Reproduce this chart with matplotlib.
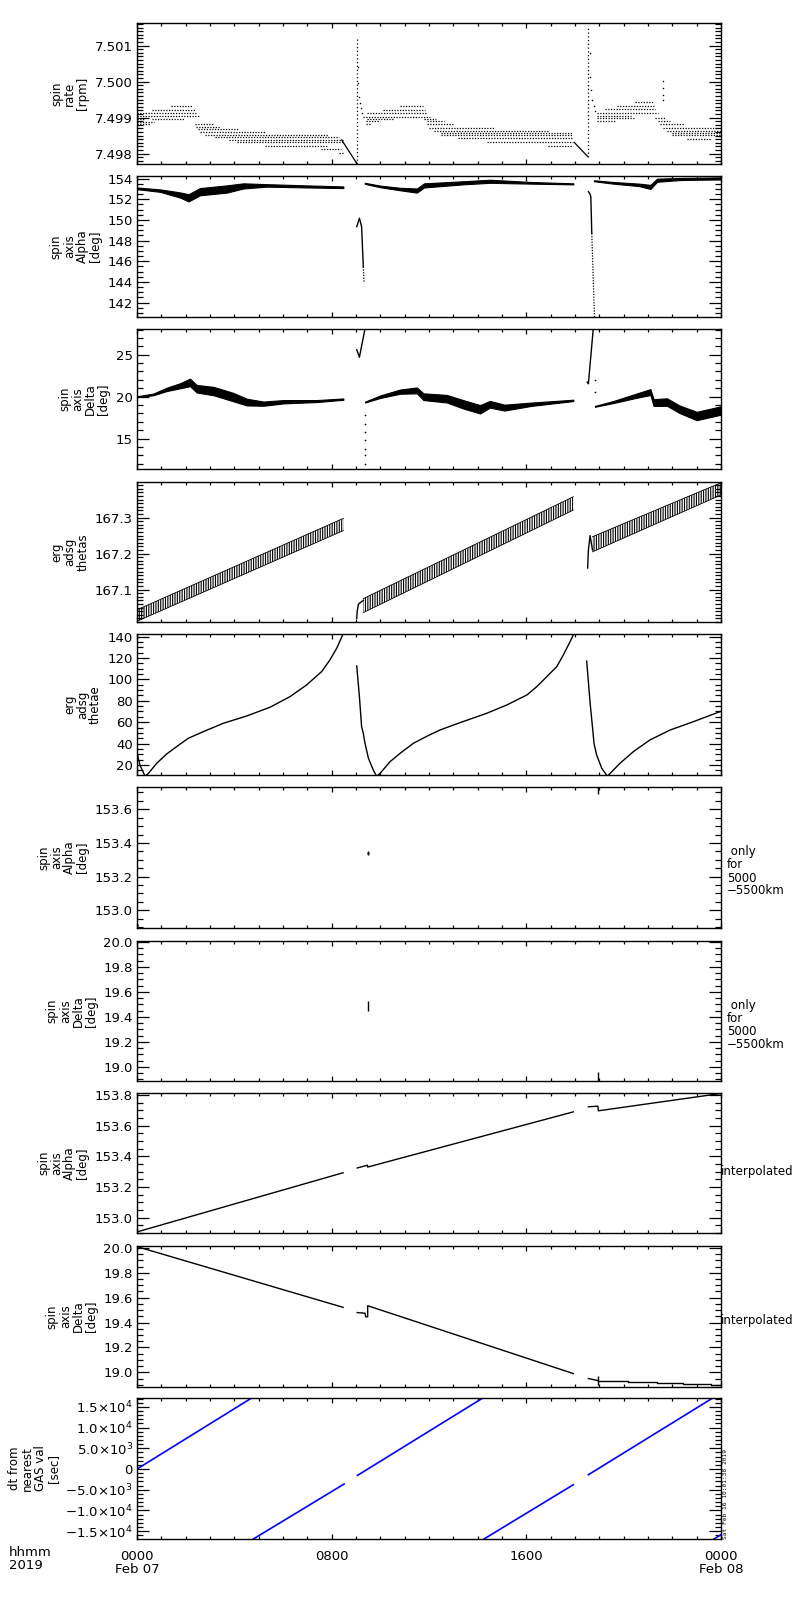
import numpy as np
import matplotlib
matplotlib.use('Agg')
import matplotlib.pyplot as plt
from matplotlib.ticker import MultipleLocator, FormatStrFormatter

nan = np.nan

# ---- spin rate: quantised levels drawn as dotted runs (level, start h, end h)
spin_lvl = [7.49931, 7.49921, 7.49912, 7.49904, 7.49896, 7.49896, 7.49888, 7.49881,
            7.49881, 7.49874, 7.49867, 7.49860, 7.49853, 7.49845, 7.49838, 7.49831,
            7.49822, 7.49812, 7.49801,
            7.49931, 7.49921, 7.49912, 7.49903, 7.49896, 7.49896, 7.49890, 7.49890,
            7.49881, 7.49881, 7.49871, 7.49864, 7.49858, 7.49851, 7.49842, 7.49833,
            7.49822,
            7.49942, 7.49933, 7.49924, 7.49914, 7.49905, 7.49899, 7.49890, 7.49899,
            7.49890, 7.49881, 7.49871, 7.49864, 7.49858, 7.49851, 7.49840]
spin_t0 = [1.40, 0.60, 0.00, 0.00, 0.60, 0.00, 0.00, 0.00, 2.38, 2.44, 2.50, 2.60, 2.80,
           3.20, 3.80, 4.10, 5.25, 7.55, 8.30,
           10.81, 10.12, 9.44, 9.30, 9.44, 11.80, 9.40, 11.90, 9.40, 11.90, 12.00, 12.20,
           12.50, 12.50, 13.20, 14.40, 16.90,
           20.47, 19.71, 19.25, 18.90, 18.90, 18.90, 18.90, 21.30, 21.40, 21.50, 21.60,
           21.80, 22.00, 22.00, 22.60]
spin_t1 = [2.32, 2.38, 2.44, 2.59, 1.95, 0.34, 0.68, 0.55, 3.14, 3.40, 4.20, 5.30, 7.85,
           8.30, 8.45, 8.45, 7.85, 8.40, 8.45,
           11.77, 11.84, 11.90, 12.04, 10.50, 12.30, 10.00, 12.60, 9.60, 13.00, 14.70,
           16.90, 17.90, 17.90, 17.90, 17.90, 17.90,
           21.22, 21.30, 21.30, 21.40, 20.30, 20.45, 19.65, 21.70, 21.90, 22.50, 23.80,
           24.00, 24.00, 24.00, 23.60]
spin_ramp_t = [8.41, 9.03, nan, 17.97, 18.52]
spin_ramp_v = [7.49838, 7.49773, nan, 7.49831, 7.49792]
spike_t = [9.03, 18.55]
spike_lo = [7.49772, 7.49790]
spike_hi = [7.50125, 7.50153]
spin_dot_t = [9.08, 9.10, 9.12, 9.15, 9.19, 9.23,
              18.60, 18.63, 18.66, 18.70, 18.77, 18.84,
              21.63, 21.63, 21.63, 21.63]
spin_dot_v = [7.50042, 7.49996, 7.49958, 7.49940, 7.49926, 7.49912,
              7.50079, 7.50014, 7.49977, 7.49949, 7.49931, 7.49917,
              7.50002, 7.49982, 7.49963, 7.49949]

# ---- spin axis alpha (centre and scatter half-width)
alpha_t1 = [0.0, 0.96, 1.77, 2.12, 2.59, 3.69, 4.37, 5.33, 7.0, 8.48]
alpha_v1 = [153.07, 152.84, 152.42, 152.15, 152.74, 153.0, 153.3, 153.35, 153.25, 153.17]
alpha_s1 = [0.08, 0.12, 0.25, 0.35, 0.35, 0.35, 0.25, 0.12, 0.10, 0.08]
alpha_t2 = [9.36, 10.0, 10.8, 11.5, 11.8, 13.4, 14.5, 16.2, 17.93]
alpha_v2 = [153.55, 153.25, 153.0, 152.85, 153.35, 153.6, 153.75, 153.6, 153.5]
alpha_s2 = [0.05, 0.08, 0.12, 0.20, 0.20, 0.15, 0.15, 0.08, 0.05]
alpha_t3 = [18.78, 19.57, 20.64, 21.1, 21.37, 22.32, 24.0]
alpha_v3 = [153.8, 153.6, 153.4, 153.2, 153.85, 153.97, 154.03]
alpha_s3 = [0.05, 0.08, 0.12, 0.20, 0.15, 0.10, 0.10]
alpha_gap_t = [9.03, 9.14, 9.23, 9.30, nan, 18.55, 18.62, 18.65, 18.69]
alpha_gap_v = [149.35, 150.17, 149.35, 145.48, nan, 152.74, 152.5, 152.26, 148.7]
alpha_tail_t = [9.30, 9.33, nan, 18.69, 18.80]
alpha_tail_v = [145.48, 143.87, nan, 148.7, 140.6]

# ---- spin axis delta
delta_t1 = [0.0, 0.67, 1.22, 1.77, 2.18, 2.45, 3.15, 3.96, 4.51, 5.2, 6.02, 7.39, 8.48]
delta_v1 = [20.0, 20.27, 20.87, 21.3, 21.7, 20.95, 20.67, 19.95, 19.36, 19.17, 19.4, 19.48, 19.71]
delta_s1 = [0.05, 0.10, 0.20, 0.30, 0.45, 0.45, 0.50, 0.50, 0.40, 0.25, 0.20, 0.12, 0.08]
delta_t2 = [9.37, 10.0, 10.81, 11.5, 11.77, 12.73, 13.4, 14.1, 14.5, 15.1, 16.2, 17.93]
delta_v2 = [19.36, 20.0, 20.6, 20.75, 20.0, 19.76, 19.1, 18.5, 19.1, 18.7, 19.1, 19.56]
delta_s2 = [0.05, 0.15, 0.25, 0.35, 0.40, 0.45, 0.50, 0.50, 0.40, 0.35, 0.20, 0.08]
delta_t3 = [18.82, 19.57, 20.5, 21.1, 21.23, 21.78, 22.3, 23.0, 23.7, 24.0]
delta_v3 = [18.85, 19.36, 20.1, 20.55, 19.3, 19.36, 18.5, 17.7, 18.16, 18.36]
delta_s3 = [0.05, 0.12, 0.25, 0.35, 0.40, 0.45, 0.45, 0.50, 0.50, 0.50]
delta_gap_t = [9.03, 9.14, 9.37, nan, 18.50, 18.55, 18.75]
delta_gap_v = [25.6, 24.7, 28.1, nan, 21.74, 21.54, 28.1]
delta_dot_t = [9.37, 9.37, 9.37, 9.37, 9.37, 9.37, 9.37, 18.82, 18.82]
delta_dot_v = [17.77, 16.79, 15.79, 14.80, 13.81, 13.01, 12.02, 22.0, 20.55]

# ---- erg adsg thetas (band lower / upper edge)
thetas_t1 = [0.0, 8.48]
thetas_lo1 = [167.012, 167.264]
thetas_hi1 = [167.044, 167.298]
thetas_t2 = [9.3, 17.93]
thetas_lo2 = [167.036, 167.321]
thetas_hi2 = [167.075, 167.358]
thetas_t3 = [18.72, 24.0]
thetas_lo3 = [167.205, 167.363]
thetas_hi3 = [167.247, 167.397]
thetas_gap_t = [9.03, 9.05, 9.10, 9.30, nan, 18.52, 18.55, 18.62, 18.72]
thetas_gap_v = [167.02, 167.04, 167.06, 167.07, nan, 167.16, 167.21, 167.25, 167.21]

# ---- erg adsg thetae
thetae_t = [0.0, 0.12, 0.33, 0.47, 0.81, 1.22, 1.63, 2.11, 2.73, 3.55, 4.51, 5.47, 6.29,
            6.97, 7.59, 7.93, 8.21, 8.48, nan,
            9.03, 9.14, 9.23, 9.30, 9.37, 9.51, 9.71, 9.85, 9.99, 10.40, 10.81, 11.36,
            11.97, 12.45, 13.28, 14.37, 15.2, 16.02, 16.43, 16.84, 17.25, 17.52, 17.8,
            17.96, nan,
            18.48, 18.62, 18.73, 18.78, 18.89, 19.1, 19.33, 19.51, 19.85, 20.4, 21.08,
            21.91, 22.87, 24.0]
thetae_v = [31.5, 20, 9.5, 12.2, 21.6, 30.3, 37.2, 45, 51.2, 59, 65.8, 74, 83.9,
            94.8, 107.3, 118.2, 129.2, 143, nan,
            112.6, 84, 55.8, 49.6, 40.3, 26.3, 15.3, 9.5, 12.2, 23.1, 30.9, 40.3,
            47.5, 52.7, 59.6, 68.3, 76.1, 85.4, 93.2, 102.5, 111.9, 122.8, 135.3,
            143, nan,
            117.1, 78.2, 52.7, 40.3, 29.3, 16.9, 9.5, 13.7, 21.6, 32.5, 43.4,
            52.7, 60.5, 70.2]

# ---- alpha / delta only for 5000-5500 km
alpha_only_t = [0.0, 9.48]
alpha_only_v = [152.91, 153.34]
delta_only_t = [0.0]
delta_only_v = [20.0]
only_bar_t = [9.48, 18.96]
alpha_bar_lo = [153.33, 153.69]
alpha_bar_hi = [153.35, 153.74]
delta_bar_lo = [19.45, 18.89]
delta_bar_hi = [19.53, 18.96]

# ---- interpolated alpha / delta
alpha_int_t = [0.0, 8.47, nan, 9.05, 9.47, 9.48, 17.93, nan, 18.55, 18.94, 18.96, 24.0]
alpha_int_v = [152.907, 153.293, nan, 153.324, 153.342, 153.33, 153.69, nan,
               153.723, 153.727, 153.697, 153.81]
delta_int_t = [0.0, 8.47, nan, 9.05, 9.37, 9.40, 9.48, 9.48, 10.8, 17.93, nan, 18.55, 18.96]
delta_int_v = [20.01, 19.522, nan, 19.48, 19.475, 19.446, 19.446, 19.535, 19.45, 18.99, nan,
               18.95, 18.933]
delta_step_t = [18.96, 20.19, 21.35, 22.45, 23.6, 24.0]
delta_step_v = [18.933, 18.925, 18.916, 18.908, 18.900, 18.900]

# ---- dt from nearest GAS value [sec]
dt_t = [0.0, 4.71, nan, 4.78, 8.51, nan, 9.06, 14.21, nan, 14.26, 17.93, nan,
        18.55, 23.66, nan, 23.71, 24.0]
dt_v = [0, 17150, nan, -16900, -3623, nan, -1546, 17150, nan, -16900, -3792, nan,
        -1377, 17150, nan, -16900, -15870]
dt_ticks = [15000, 10000, 5000, 0, -5000, -10000, -15000]
dt_ticklabels = [r'1.5$\times$10$^{4}$', r'1.0$\times$10$^{4}$', r'5.0$\times$10$^{3}$', '0',
                 r'$-$5.0$\times$10$^{3}$', r'$-$1.0$\times$10$^{4}$', r'$-$1.5$\times$10$^{4}$']

ylabels = ["spin\nrate\n[rpm]", "spin\naxis\nAlpha\n[deg]", "spin\naxis\nDelta\n[deg]",
           "erg\nadsg\nthetas", "erg\nadsg\nthetae", "spin\naxis\nAlpha\n[deg]",
           "spin\naxis\nDelta\n[deg]", "spin\naxis\nAlpha\n[deg]", "spin\naxis\nDelta\n[deg]",
           "dt from\nnearest\nGAS val\n[sec]"]
ylims = [(7.49771, 7.50163), (140.6, 154.26), (11.39, 28.06), (167.010, 167.399),
         (10.65, 142.4), (152.895, 153.732), (18.886, 20.008), (152.90, 153.813),
         (18.882, 20.015), (-16900, 17150)]
ymajor = [0.001, 2, 5, 0.1, 20, 0.2, 0.2, 0.2, 0.2, 5000]
yminor = [0.0001, 0.5, 1, 0.01, 5, 0.05, 0.05, 0.05, 0.05, 1000]
yfmt = ['%.3f', '%d', '%d', '%.1f', '%d', '%.1f', '%.1f', '%.1f', '%.1f', None]

# panel pixel extents (top, bottom) in an 800x1600 canvas
tops = [23, 176, 329, 482, 634, 787, 941, 1093, 1246, 1398]
bots = [164, 317, 469, 622, 775, 928, 1081, 1233, 1387, 1539]

plt.rcParams['font.family'] = 'DejaVu Sans'
plt.rcParams['hatch.linewidth'] = 0.8

fig = plt.figure(figsize=(8, 16), dpi=100)
axes = []
for i in range(10):
    ax = fig.add_axes([137 / 800, 1 - bots[i] / 1600, 584 / 800, (bots[i] - tops[i]) / 1600])
    ax.set_xlim(0, 24)
    ax.set_ylim(*ylims[i])
    ax.xaxis.set_major_locator(MultipleLocator(8))
    ax.xaxis.set_minor_locator(MultipleLocator(1))
    if i < 9:
        ax.yaxis.set_major_locator(MultipleLocator(ymajor[i]))
        ax.yaxis.set_major_formatter(FormatStrFormatter(yfmt[i]))
    ax.yaxis.set_minor_locator(MultipleLocator(yminor[i]))
    ax.tick_params(which='both', direction='in', top=True, right=True, labelsize=9.5,
                   width=0.9, pad=3)
    ax.tick_params(axis='y', which='major', length=8.5)
    ax.tick_params(axis='y', which='minor', length=4.3)
    ax.tick_params(axis='x', which='major', length=3.8)
    ax.tick_params(axis='x', which='minor', length=2.2)
    ax.tick_params(axis='x', labelbottom=(i == 9))
    for sp in ax.spines.values():
        sp.set_linewidth(1.0)
    ax.set_ylabel(ylabels[i], fontsize=8.5, linespacing=1.0, labelpad=4,
                  multialignment='center')
    axes.append(ax)

dot = (0, (1, 1.2))

# 1 spin rate
ax = axes[0]
ax.hlines(spin_lvl, spin_t0, spin_t1, colors='k', linestyles=[dot], linewidth=0.9)
ax.plot(spin_ramp_t, spin_ramp_v, color='k', lw=0.9)
ax.vlines(spike_t, spike_lo, spike_hi, colors='k', linestyles=[(0, (1, 2))], linewidth=0.9)
ax.scatter(spin_dot_t, spin_dot_v, s=1.2, color='k', linewidths=0)

# 2 alpha
ax = axes[1]
for t, v, s in [(alpha_t1, alpha_v1, alpha_s1), (alpha_t2, alpha_v2, alpha_s2),
                (alpha_t3, alpha_v3, alpha_s3)]:
    v = np.array(v); s = np.array(s)
    ax.fill_between(t, v - s, v + s, color='k', lw=0.8)
ax.plot(alpha_gap_t, alpha_gap_v, color='k', lw=1.0)
ax.plot(alpha_tail_t, alpha_tail_v, color='k', lw=0.9, ls=dot)

# 3 delta
ax = axes[2]
for t, v, s in [(delta_t1, delta_v1, delta_s1), (delta_t2, delta_v2, delta_s2),
                (delta_t3, delta_v3, delta_s3)]:
    v = np.array(v); s = np.array(s)
    ax.fill_between(t, v - s, v + s, color='k', lw=0.8)
ax.plot(delta_gap_t, delta_gap_v, color='k', lw=1.0)
ax.scatter(delta_dot_t, delta_dot_v, s=1.5, color='k', linewidths=0)

# 4 thetas
ax = axes[3]
for t, lo, hi in [(thetas_t1, thetas_lo1, thetas_hi1), (thetas_t2, thetas_lo2, thetas_hi2),
                  (thetas_t3, thetas_lo3, thetas_hi3)]:
    ax.fill_between(t, lo, hi, facecolor='none', edgecolor='k', hatch='|||||||', linewidth=0)
    ax.plot(t, lo, color='k', lw=0.6)
    ax.plot(t, hi, color='k', lw=0.6)
ax.plot(thetas_gap_t, thetas_gap_v, color='k', lw=1.0)

# 5 thetae
axes[4].plot(thetae_t, thetae_v, color='k', lw=1.0)

# 6, 7 only for 5000-5500 km
axes[5].scatter(alpha_only_t, alpha_only_v, s=3, color='k', linewidths=0)
axes[5].vlines(only_bar_t, alpha_bar_lo, alpha_bar_hi, colors='k', linewidth=1.0)
axes[6].scatter(delta_only_t, delta_only_v, s=3, color='k', linewidths=0)
axes[6].vlines(only_bar_t, delta_bar_lo, delta_bar_hi, colors='k', linewidth=1.0)

# 8, 9 interpolated
axes[7].plot(alpha_int_t, alpha_int_v, color='k', lw=1.0)
axes[8].plot(delta_int_t, delta_int_v, color='k', lw=1.0)
axes[8].plot(delta_step_t, delta_step_v, color='k', lw=1.0, drawstyle='steps-post')
axes[8].vlines([18.96], [18.90], [18.97], colors='k', linewidth=1.0)

# 10 dt
ax = axes[9]
ax.plot(dt_t, dt_v, color='blue', lw=1.2)
ax.set_yticks(dt_ticks)
ax.set_yticklabels(dt_ticklabels)
ax.set_xticks([0, 8, 16, 24])
ax.set_xticklabels(['0000\nFeb 07', '0800', '1600', '0000\nFeb 08'], fontsize=9.5,
                   va='top', linespacing=1.0)
ax.tick_params(axis='x', pad=8)

# side annotations
for i in (5, 6):
    yc = 1 - ((tops[i] + bots[i]) / 2 + 14) / 1600
    fig.text(727 / 800, yc, " only\nfor\n5000\n\u22125500km", fontsize=8.5, ha='left',
             va='center', linespacing=1.0)
for i, off in ((7, 9), (8, 4)):
    yc = 1 - ((tops[i] + bots[i]) / 2 + off) / 1600
    fig.text(721 / 800, yc, "interpolated", fontsize=8.5, ha='left', va='center')

fig.text(9 / 800, 1 - 1546 / 1600, "hhmm\n2019", fontsize=9.5, ha='left', va='top',
         linespacing=1.0)
fig.text(723 / 800, 1 - 1539 / 1600, "Sat Feb 16 10:01:38 2019", rotation=90,
         fontsize=4.5, family='DejaVu Sans Mono', ha='left', va='bottom')

fig.savefig('out.png', dpi=100)
